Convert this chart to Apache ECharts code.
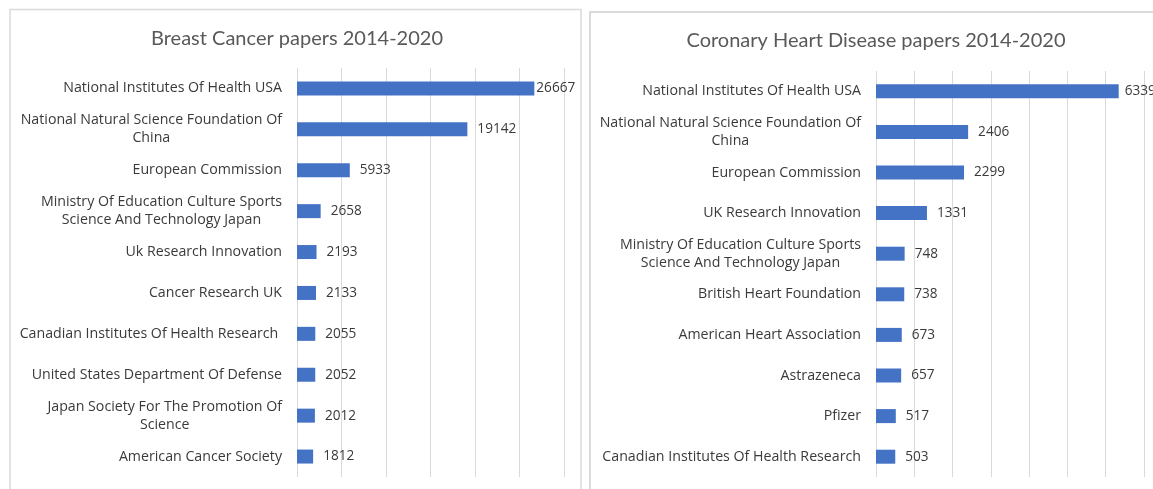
<!DOCTYPE html>
<html>
<head>
<meta charset="utf-8">
<script src="https://cdn.jsdelivr.net/npm/echarts@6/dist/echarts.min.js"></script>
<style>
html,body{margin:0;padding:0;background:#fff;}
#c{width:1153px;height:489px;}
</style>
</head>
<body>
<div id="c"></div>
<script>
const titleBC = 'Breast Cancer papers 2014-2020';
const catsBC = [
  'National Institutes Of Health USA',
  'National Natural Science Foundation Of\nChina',
  'European Commission',
  'Ministry Of Education Culture Sports\nScience And Technology Japan',
  'Uk Research Innovation',
  'Cancer Research UK',
  'Canadian Institutes Of Health Research ',
  'United States Department Of Defense',
  'Japan Society For The Promotion Of\nScience',
  'American Cancer Society'
];
const valsBC = [26667, 19142, 5933, 2658, 2193, 2133, 2055, 2052, 2012, 1812];

const titleCHD = 'Coronary Heart Disease papers 2014-2020';
const catsCHD = [
  'National Institutes Of Health USA',
  'National Natural Science Foundation Of\nChina',
  'European Commission',
  'UK Research Innovation',
  'Ministry Of Education Culture Sports\nScience And Technology Japan',
  'British Heart Foundation',
  'American Heart Association',
  'Astrazeneca',
  'Pfizer',
  'Canadian Institutes Of Health Research'
];
const valsCHD = [6339, 2406, 2299, 1331, 748, 738, 673, 657, 517, 503];

const FONT = '"Open Sans"';
const TITLE_FONT = 'Lato';
const LABEL_COLOR = '#3a3a3a';
const BAR_COLOR = '#4472C4';
const GRID_COLOR = '#d9d9d9';
const CAT_SIZE = 14.2;
const VAL_SIZE = 13.6;

function catFormatter(v){
  return v.split('\n').map(s => '{c|' + s + '}').join('\n');
}
function makeY(idx){
  return {
    type:'category', gridIndex:idx, inverse:true,
    data: idx === 0 ? catsBC : catsCHD,
    axisLine:{show:false}, axisTick:{show:false},
    axisLabel:{
      margin:15, color:LABEL_COLOR, fontFamily:FONT, fontSize:CAT_SIZE, lineHeight:18,
      formatter: catFormatter,
      rich:{c:{align:'center', color:LABEL_COLOR, fontFamily:FONT, fontSize:CAT_SIZE, lineHeight:18}}
    }
  };
}
function makeX(idx, max, interval){
  return {
    type:'value', gridIndex:idx, min:0, max:max, interval:interval,
    axisLabel:{show:false}, axisLine:{show:false}, axisTick:{show:false},
    splitLine:{show:true, lineStyle:{color:GRID_COLOR, width:1}}
  };
}
function makeData(vals, firstDist){
  return vals.map((v,i) => i === 0 ? {value:v, label:{distance:firstDist}} : v);
}
function makeSeries(idx, vals, firstDist){
  return {
    type:'bar', xAxisIndex:idx, yAxisIndex:idx,
    data: makeData(vals, firstDist), barWidth:14,
    itemStyle:{color:BAR_COLOR},
    label:{show:true, position:'right', distance:10, color:LABEL_COLOR, fontFamily:FONT, fontSize:VAL_SIZE},
    silent:true, animation:false
  };
}

const chart = echarts.init(document.getElementById('c'), null, {renderer:'canvas'});
chart.setOption({
  animation:false,
  backgroundColor:'#ffffff',
  title:[
    {text:titleBC, left:292, top:24, textAlign:'center',
     textStyle:{fontFamily:TITLE_FONT, fontSize:20, fontWeight:'normal', color:'#595959'}},
    {text:titleCHD, left:871, top:26, textAlign:'center',
     textStyle:{fontFamily:TITLE_FONT, fontSize:20, fontWeight:'normal', color:'#595959'}}
  ],
  grid:[
    {left:297, right:1153-564, top:68, bottom:12, containLabel:false},
    {left:876, right:1153-1144, top:71, bottom:12, containLabel:false}
  ],
  xAxis:[makeX(0, 30000, 5000), makeX(1, 7000, 1000)],
  yAxis:[makeY(0), makeY(1)],
  series:[makeSeries(0, valsBC, 2), makeSeries(1, valsCHD, 6)],
  graphic:[
    {type:'rect', shape:{x:10, y:9.5, width:571, height:520},
     style:{fill:null, stroke:'#dadada', lineWidth:1.5}, silent:true, z:-1},
    {type:'rect', shape:{x:590, y:12, width:620, height:520},
     style:{fill:null, stroke:'#cfcfcf', lineWidth:1.5}, silent:true, z:-1}
  ]
});
</script>
</body>
</html>
